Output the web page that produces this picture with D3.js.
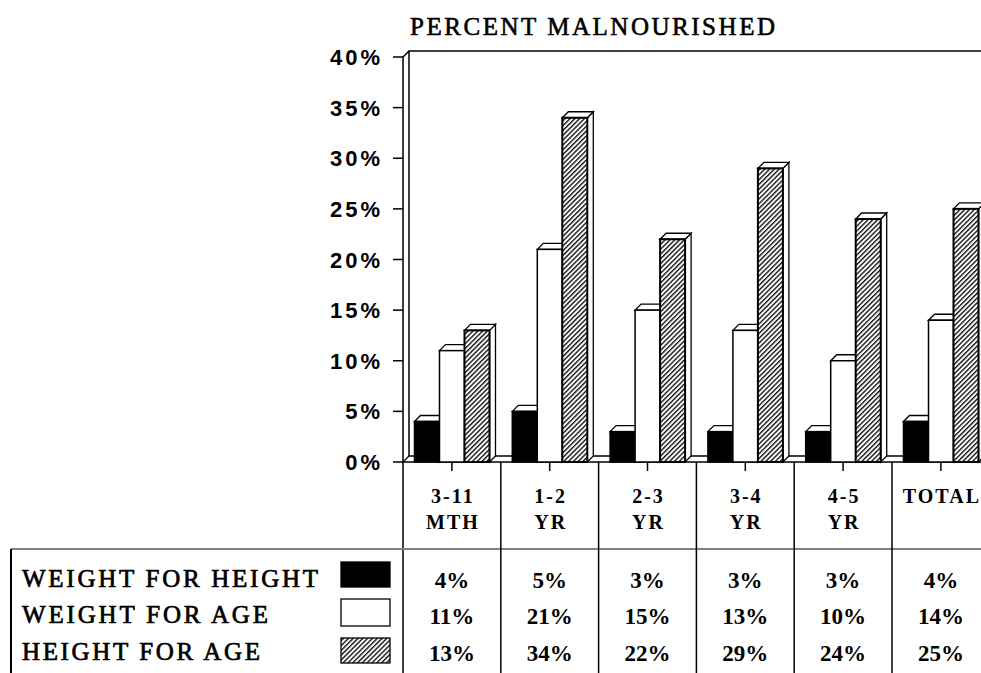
<!DOCTYPE html>
<html>
<head>
<meta charset="utf-8">
<script src="https://cdn.jsdelivr.net/npm/d3@7"></script>
<style>
  body { margin: 0; background: #fff; }
  svg { display: block; }
</style>
</head>
<body>
<div class="chart"></div>
<script>
var categories = [['3-11', 'MTH'], ['1-2', 'YR'], ['2-3', 'YR'], ['3-4', 'YR'], ['4-5', 'YR'], ['TOTAL', '']]
var seriesNames = ['WEIGHT FOR HEIGHT', 'WEIGHT FOR AGE', 'HEIGHT FOR AGE']
var weightForHeight = [4, 5, 3, 3, 3, 4]
var weightForAge = [11, 21, 15, 13, 10, 14]
var heightForAge = [13, 34, 22, 29, 24, 25]
var yTicks = [0, 5, 10, 15, 20, 25, 30, 35, 40]

;(function () {
  var width = 981
  var height = 673
  var depth = 6
  var serif = '"Liberation Serif", "Times New Roman", serif'
  var sans = '"Liberation Sans", Arial, sans-serif'
  var series = [weightForHeight, weightForAge, heightForAge]
  var fills = ['#000', '#fff', 'url(#hatch)']

  var svg = d3.select('.chart')
    .append('svg')
    .attr('width', width)
    .attr('height', height)

  var pat = svg.append('defs')
    .append('pattern')
    .attr('id', 'hatch')
    .attr('patternUnits', 'userSpaceOnUse')
    .attr('width', 3.4)
    .attr('height', 10)
    .attr('patternTransform', 'rotate(45)')
  pat.append('rect').attr('width', 3.4).attr('height', 10).attr('fill', '#fff')
  pat.append('line')
    .attr('x1', 0.7).attr('y1', 0).attr('x2', 0.7).attr('y2', 10)
    .attr('stroke', '#000').attr('stroke-width', 1.3)

  var y = d3.scaleLinear().domain([0, 40]).range([462, 57])
  var x = d3.scaleBand().domain(d3.range(categories.length)).range([403, 403 + 6 * 97.8])
  var xs = d3.scaleBand().domain(d3.range(series.length)).range([11.5, 86.5])

  // title
  svg.append('text')
    .attr('x', 410).attr('y', 35)
    .attr('font-family', serif).attr('font-size', 25)
    .attr('stroke', '#000').attr('stroke-width', 0.6)
    .attr('textLength', 365).attr('lengthAdjust', 'spacing')
    .text('PERCENT MALNOURISHED')

  // floor
  var x0 = 403
  var xEnd = x.range()[1]
  svg.append('path')
    .attr('d', 'M' + x0 + ',' + y(0) + 'L' + xEnd + ',' + y(0) + 'L' + (xEnd + depth) + ',' + (y(0) - depth) +
      'L' + (x0 + depth) + ',' + (y(0) - depth) + 'Z')
    .attr('fill', '#fff').attr('stroke', '#000').attr('stroke-width', 1.3)

  // back wall edge
  svg.append('path')
    .attr('d', 'M' + x0 + ',' + height + 'L' + x0 + ',' + y(40) + 'L' + (x0 + depth) + ',' + (y(40) - depth) +
      'L' + width + ',' + (y(40) - depth) + 'M' + (x0 + depth) + ',' + (y(40) - depth) + 'L' + (x0 + depth) + ',' + (y(0) - depth))
    .attr('fill', 'none').attr('stroke', '#000').attr('stroke-width', 1.5)

  // y ticks
  svg.selectAll('.ytick')
    .data(yTicks)
    .enter()
    .append('line')
    .attr('x1', 393).attr('x2', x0)
    .attr('y1', function (d) { return y(d) })
    .attr('y2', function (d) { return y(d) })
    .attr('stroke', '#000').attr('stroke-width', 1.5)

  svg.selectAll('.ylabel')
    .data(yTicks)
    .enter()
    .append('text')
    .attr('x', 383)
    .attr('y', function (d) { return y(d) + 8 })
    .attr('text-anchor', 'end')
    .attr('font-family', sans).attr('font-weight', 'bold').attr('font-size', 22)
    .attr('letter-spacing', 3)
    .text(function (d) { return d + '%' })

  // bars
  categories.forEach(function (c, i) {
    series.forEach(function (s, j) {
      var bx = x(i) + xs(j)
      var bw = xs.bandwidth()
      var top = y(s[i])
      var bottom = y(0)
      var g = svg.append('g')
      g.append('path')
        .attr('d', 'M' + (bx + bw) + ',' + top + 'L' + (bx + bw + depth) + ',' + (top - depth) +
          'L' + (bx + bw + depth) + ',' + (bottom - depth) + 'L' + (bx + bw) + ',' + bottom + 'Z')
        .attr('fill', '#fff').attr('stroke', '#000').attr('stroke-width', 1.3)
      g.append('path')
        .attr('d', 'M' + bx + ',' + top + 'L' + (bx + depth) + ',' + (top - depth) +
          'L' + (bx + bw + depth) + ',' + (top - depth) + 'L' + (bx + bw) + ',' + top + 'Z')
        .attr('fill', '#fff').attr('stroke', '#000').attr('stroke-width', 1.3)
      g.append('rect')
        .attr('x', bx).attr('y', top)
        .attr('width', bw).attr('height', bottom - top)
        .attr('fill', fills[j]).attr('stroke', '#000')
        .attr('stroke-width', j === 2 ? 2 : 1.5)
    })
  })

  // table grid
  svg.append('line')
    .attr('x1', 11).attr('x2', width).attr('y1', 549).attr('y2', 549)
    .attr('stroke', '#808080').attr('stroke-width', 2)
  svg.append('line')
    .attr('x1', 11).attr('x2', 11).attr('y1', 549).attr('y2', height)
    .attr('stroke', '#000').attr('stroke-width', 2)

  svg.selectAll('.divider')
    .data(d3.range(1, categories.length))
    .enter()
    .append('line')
    .attr('x1', function (d) { return x(d) })
    .attr('x2', function (d) { return x(d) })
    .attr('y1', y(0)).attr('y2', height)
    .attr('stroke', '#000').attr('stroke-width', 1.5)

  svg.selectAll('.xtick')
    .data(d3.range(categories.length))
    .enter()
    .append('line')
    .attr('x1', function (d) { return x(d) + x.bandwidth() / 2 })
    .attr('x2', function (d) { return x(d) + x.bandwidth() / 2 })
    .attr('y1', y(0)).attr('y2', 471)
    .attr('stroke', '#000').attr('stroke-width', 1.5)

  // category labels
  ;[0, 1].forEach(function (line) {
    svg.selectAll('.cat' + line)
      .data(categories)
      .enter()
      .append('text')
      .attr('x', function (d, i) { return x(i) + x.bandwidth() / 2 + 1 })
      .attr('y', line === 0 ? 503 : 529)
      .attr('text-anchor', 'middle')
      .attr('font-family', serif).attr('font-weight', 'bold').attr('font-size', 20)
      .attr('letter-spacing', 2)
      .text(function (d) { return d[line] })
  })

  // legend + values
  var rowBase = [587, 623, 660]
  var swatchY = [562, 599, 638]
  var swatchH = [25, 27, 25]
  seriesNames.forEach(function (name, j) {
    svg.append('text')
      .attr('x', 22).attr('y', rowBase[j])
      .attr('font-family', serif).attr('font-size', 25)
      .attr('stroke', '#000').attr('stroke-width', 0.7)
      .attr('textLength', [296, 246, 238][j]).attr('lengthAdjust', 'spacing')
      .text(name)
    svg.append('rect')
      .attr('x', 341).attr('y', swatchY[j])
      .attr('width', 49).attr('height', swatchH[j])
      .attr('fill', fills[j]).attr('stroke', '#000').attr('stroke-width', 1.3)

    svg.selectAll('.val' + j)
      .data(series[j])
      .enter()
      .append('text')
      .attr('x', function (d, i) { return x(i) + x.bandwidth() / 2 })
      .attr('y', rowBase[j] + 1)
      .attr('text-anchor', 'middle')
      .attr('font-family', serif).attr('font-weight', 'bold').attr('font-size', 23)
      .text(function (d) { return d + '%' })
  })
})()
</script>
</body>
</html>
